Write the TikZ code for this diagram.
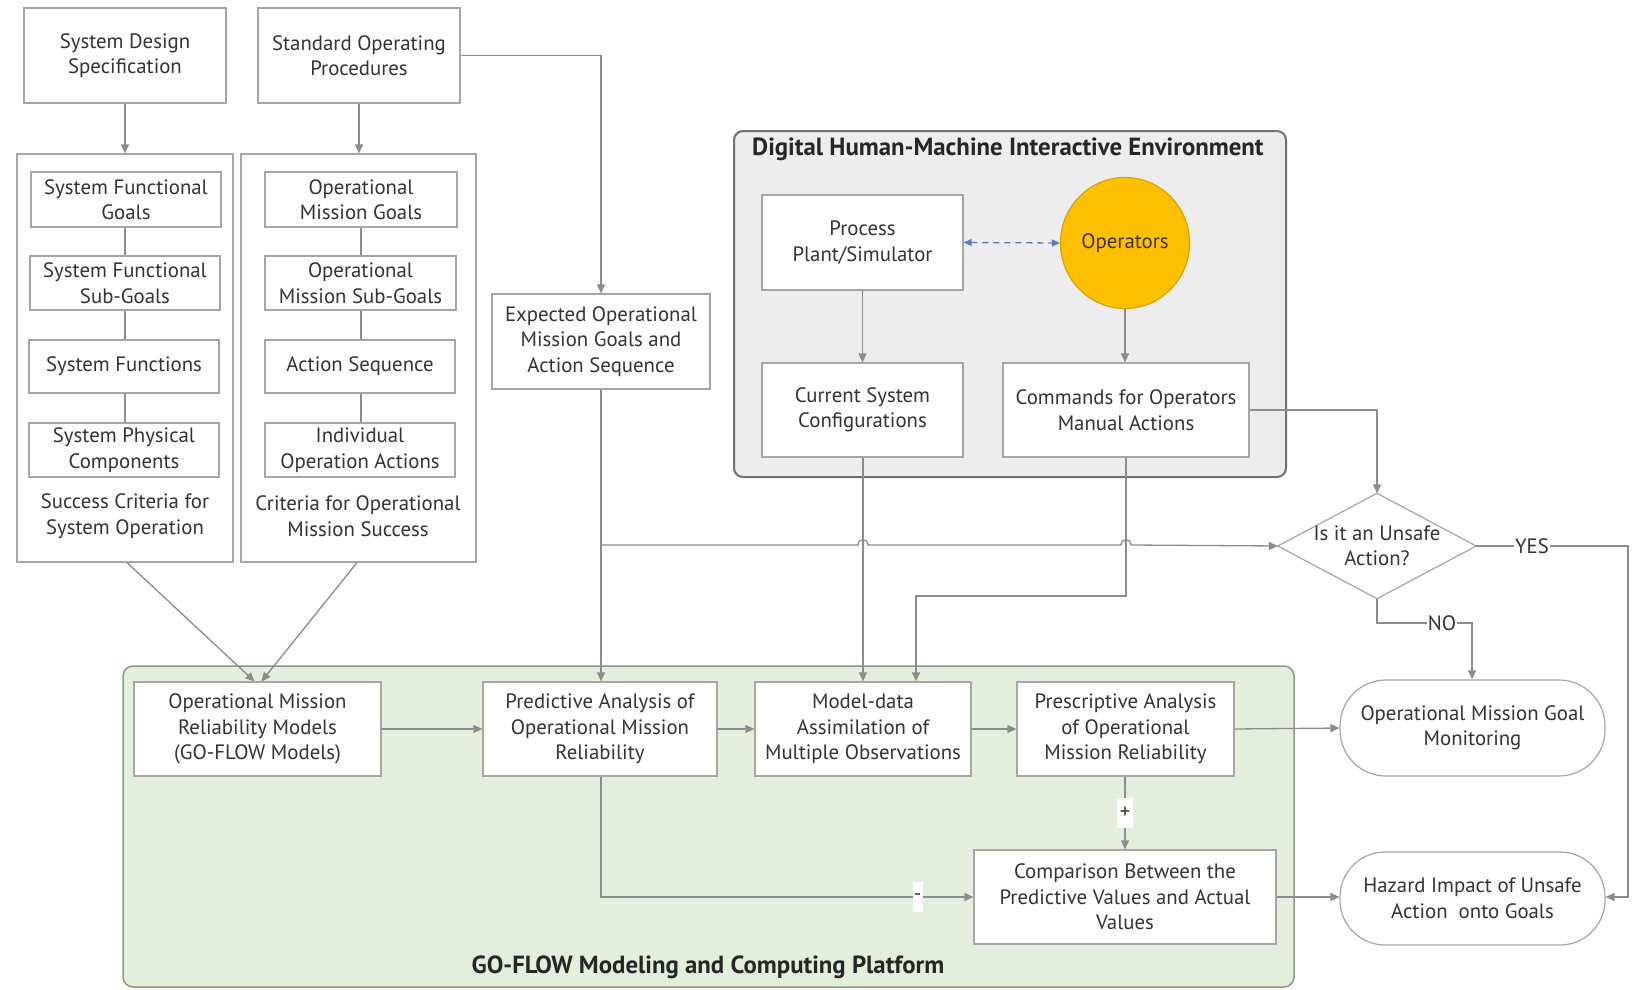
\documentclass[tikz,border=0pt]{standalone}
\usepackage{fontspec}
\setmainfont{PT Sans}
\usetikzlibrary{arrows.meta,shapes.geometric,calc}
\definecolor{txt}{HTML}{333333}
\definecolor{boxc}{HTML}{A6A6A6}
\definecolor{linec}{HTML}{8C8C8C}
\definecolor{greenfill}{HTML}{E2EFDA}
\definecolor{greenline}{HTML}{8A9A8A}
\definecolor{digfill}{HTML}{EDEDED}
\definecolor{digline}{HTML}{707070}
\definecolor{opfill}{HTML}{FFC000}
\definecolor{opline}{HTML}{D9A400}
\definecolor{bluearr}{HTML}{5B7CC0}
\newcommand\myfs{\fontsize{20.8}{25.5}\selectfont}
\newcommand\myttl{\fontsize{24.8}{28}\selectfont\bfseries}
\begin{document}
\begin{tikzpicture}[x=1pt,y=-1pt,
  box/.style={draw=boxc, fill=white, line width=1.2pt, align=center, inner sep=0pt, text=txt, font=\myfs},
  plain/.style={align=center, inner sep=0pt, text=txt, font=\myfs},
  conn/.style={draw=linec, line width=1.3pt},
  arr/.style={conn, -{Triangle[length=9pt,width=8pt]}},
  lbl/.style={fill=white, inner sep=2pt, text=txt, font=\myfs}
]
\useasboundingbox (0,0) rectangle (1633,990);
\fill[white] (0,0) rectangle (1633,990);

% containers
\draw[fill=greenfill, draw=greenline, line width=1.5pt, rounded corners=10pt] (123,666) rectangle (1294,987);
\draw[fill=digfill, draw=digline, line width=2pt, rounded corners=9pt] (734,131) rectangle (1286,477);
\node[anchor=west, text=black!85, font=\myttl, inner sep=0pt] (digtitle) at (752,149) {Digital Human-Machine Interactive Environment};
\node[text=black!85, font=\myttl, inner sep=0pt] (gftitle) at (708,967) {GO-FLOW Modeling and Computing Platform};

% top-left
\node[box, minimum width=202, minimum height=95] (sds) at (125,55.5) {System Design\\Specification};
\node[box, minimum width=202, minimum height=95] (sop) at (359,55.5) {Standard Operating\\Procedures};
\node[box, minimum width=216, minimum height=408] (lc) at (125,358) {};
\node[box, minimum width=235, minimum height=408] (rc) at (358.5,358) {};
\node[box, minimum width=190, minimum height=55] (sfg) at (126,199.5) {System Functional\\Goals};
\node[box, minimum width=190, minimum height=54] (sfsg) at (125,283) {System Functional\\Sub-Goals};
\node[box, minimum width=190, minimum height=53] (sf) at (124,366.5) {System Functions};
\node[box, minimum width=190, minimum height=54] (spc) at (124,450) {System Physical\\Components};
\node[plain] (lct) at (125,516) {Success Criteria for\\System Operation};
\node[box, minimum width=192, minimum height=55] (omg) at (361,199.5) {Operational\\Mission Goals};
\node[box, minimum width=191, minimum height=54] (omsg) at (360.5,283) {Operational\\Mission Sub-Goals};
\node[box, minimum width=190, minimum height=53] (as) at (360,366.5) {Action Sequence};
\node[box, minimum width=190, minimum height=54] (ioa) at (360,450) {Individual\\Operation Actions};
\node[plain] (rct) at (358,516) {Criteria for Operational\\Mission Success};

\node[box, minimum width=218, minimum height=95] (exp) at (601,341.5) {Expected Operational\\Mission Goals and\\Action Sequence};

% digital env
\node[box, minimum width=201, minimum height=95] (proc) at (862.5,242.5) {Process\\Plant/Simulator};
\node[ellipse, draw=opline, fill=opfill, line width=1.2pt, minimum width=129, minimum height=131, inner sep=0pt, text=black!75!opfill, font=\myfs] (ops) at (1125,243) {Operators};
\node[box, minimum width=201, minimum height=94] (csc) at (862.5,410) {Current System\\Configurations};
\node[box, minimum width=246, minimum height=94] (cmd) at (1126,410) {Commands for Operators\\Manual Actions};

% decision diamond (bounding node + drawn outline)
\node[minimum width=198, minimum height=105, inner sep=0pt] (dia) at (1377,546) {};
\draw[draw=boxc, fill=white, line width=1.2pt] (dia.west) -- (dia.north) -- (dia.east) -- (dia.south) -- cycle;
\node[plain] (diat) at (dia.center) {Is it an Unsafe\\Action?};

% green platform
\node[box, minimum width=247, minimum height=94] (omrm) at (257.5,729) {Operational Mission\\Reliability Models\\(GO-FLOW Models)};
\node[box, minimum width=234, minimum height=94] (pa) at (600,729) {Predictive Analysis of\\Operational Mission\\Reliability};
\node[box, minimum width=216, minimum height=94] (md) at (863,729) {Model-data\\Assimilation of\\Multiple Observations};
\node[box, minimum width=217, minimum height=94] (pre) at (1125.5,729) {Prescriptive Analysis\\of Operational\\Mission Reliability};
\node[box, minimum width=302, minimum height=94] (cmp) at (1125,897) {Comparison Between the\\Predictive Values and Actual\\Values};

\node[box, rounded corners=46pt, minimum width=265, minimum height=96] (omgm) at (1472.5,728) {Operational Mission Goal\\Monitoring};
\node[box, rounded corners=45pt, minimum width=265, minimum height=93] (haz) at (1472.5,898.5) {Hazard Impact of Unsafe\\Action\ \ onto Goals};

% connectors: left column
\draw[arr] (sds.south) -- (lc.north);
\draw[arr] (sop.south) -- (rc.north -| sop.south);
\draw[conn] (sfg.south -| lc.north) -- (sfsg.north -| lc.north);
\draw[conn] (sfsg.south -| lc.north) -- (sf.north -| lc.north);
\draw[conn] (sf.south -| lc.north) -- (spc.north -| lc.north);
\draw[conn] (omg.south) -- (omsg.north -| omg.south);
\draw[conn] (omsg.south -| omg.south) -- (as.north -| omg.south);
\draw[conn] (as.south -| omg.south) -- (ioa.north -| omg.south);
\coordinate (lcb) at ($(lc.south)+(2,0)$);
\coordinate (rcb) at ($(rc.south)+(-1.5,0)$);
\draw[arr] (lcb) -- ($(omrm.north)+(-3,0)$);
\draw[arr] (rcb) -- ($(omrm.north)+(4,0)$);

% SOP -> expected
\coordinate (sopc) at (exp.north |- sop.east);
\draw[arr] (sop.east) -- (sopc) -- (exp.north);
% expected -> PA
\draw[arr] (exp.south) -- (pa.north -| exp.south);
% branch to diamond with hops
\coordinate (br) at (600,545);
\coordinate (h1a) at (858,545);
\coordinate (h1b) at (868,545);
\coordinate (h2a) at (1121,545);
\coordinate (h2b) at (1131,545);
\draw[arr] (br) -- (h1a) .. controls (858,538) and (868,538) .. (h1b) -- (h2a) .. controls (1121,538) and (1131,538) .. (h2b) -- (dia.west);

% digital env connectors
\draw[conn, bluearr, dashed, dash pattern=on 6pt off 5pt, {Triangle[length=8pt,width=7pt]}-{Triangle[length=8pt,width=7pt]}] (proc.east) -- (ops.west);
\draw[arr] (proc.south) -- (csc.north);
\draw[arr] (ops.south) -- (cmd.north -| ops.south);
\draw[arr] (csc.south -| md.north) -- (md.north);
\coordinate (c1) at (1126,596);
\coordinate (c2) at (916,596);
\draw[arr] (cmd.south) -- (c1) -- (c2) -- (c2 |- md.north);
\coordinate (c3) at (dia.north |- cmd.east);
\draw[arr] (cmd.east) -- (c3) -- (dia.north);

% platform connectors
\draw[arr] (omrm.east) -- (pa.west);
\draw[arr] (pa.east) -- (md.west);
\draw[arr] (md.east) -- (pre.west);
\draw[arr] (pre.east) -- (omgm.west);
\draw[arr] (pre.south -| cmp.north) -- (cmp.north) node[lbl, pos=0.5, inner sep=3pt, minimum height=30pt] (plus) {+};
\coordinate (p1) at (601,897);
\draw[arr] (pa.south -| p1) -- (p1) -- (cmp.west) node[lbl, pos=0.85, inner sep=0pt, minimum width=10pt, minimum height=30pt] (minus) {-};
\draw[arr] (cmp.east) -- (haz.west |- cmp.east);

% decision outputs
\coordinate (y1) at (1628,546);
\coordinate (y2) at (1628,897);
\draw[arr] (dia.east) -- (y1) -- (y2) -- (haz.east |- y2);
\node[lbl, inner sep=1pt] (yes) at (1532,546) {YES};
\coordinate (n1) at (1377,623);
\coordinate (n2) at (1472,623);
\draw[arr] (dia.south) -- (n1) -- (n2) -- (omgm.north -| n2);
\node[lbl, inner sep=1pt] (no) at (1442,623) {NO};
\end{tikzpicture}
\end{document}
